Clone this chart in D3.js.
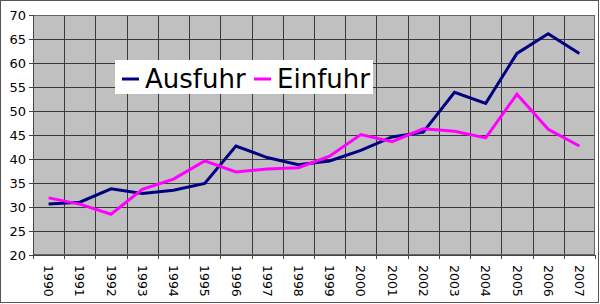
<!DOCTYPE html>
<html>
<head>
<meta charset="utf-8">
<script src="https://cdn.jsdelivr.net/npm/d3@7"></script>
<style>
  body { margin: 0; background: #fff; }
  svg text { font-family: "DejaVu Sans", Verdana, sans-serif; fill: #000; }
</style>
</head>
<body>
<svg id="chart" width="600" height="304"></svg>
<script>
const years = ['1990', '1991', '1992', '1993', '1994', '1995', '1996', '1997', '1998',
  '1999', '2000', '2001', '2002', '2003', '2004', '2005', '2006', '2007'];
const ausfuhr = [30.6, 31.0, 33.8, 32.8, 33.5, 34.9, 42.7, 40.3, 38.8, 39.6, 41.8, 44.6,
  45.6, 53.9, 51.6, 62.0, 66.1, 62.0];
const einfuhr = [31.9, 30.6, 28.5, 33.7, 35.8, 39.6, 37.3, 37.9, 38.2, 40.6, 45.1, 43.6,
  46.3, 45.8, 44.4, 53.5, 46.2, 42.7];
const yTicks = [20, 25, 30, 35, 40, 45, 50, 55, 60, 65, 70];
const series = [
  {name: 'Ausfuhr', values: ausfuhr, color: '#000080'},
  {name: 'Einfuhr', values: einfuhr, color: '#ff00ff'},
];

const svg = d3.select('#chart');
const margin = {top: 15, right: 5, bottom: 49, left: 33};
const width = 600 - margin.left - margin.right;
const height = 304 - margin.top - margin.bottom;

// outer frame
svg.append('rect')
  .attr('x', 0.5).attr('y', 0.5)
  .attr('width', 598).attr('height', 302)
  .attr('fill', 'none')
  .attr('stroke', '#555');

const g = svg.append('g')
  .attr('transform', `translate(${margin.left},${margin.top})`);

const x = d3.scaleBand().domain(years).range([0, width]);
const y = d3.scaleLinear().domain([20, 70]).range([height, 0]);

g.append('rect')
  .attr('width', width).attr('height', height)
  .attr('fill', '#c0c0c0');

// horizontal grid
g.append('g')
  .selectAll('line')
  .data(yTicks)
  .join('line')
    .attr('x1', 0).attr('x2', width)
    .attr('y1', d => Math.round(y(d)) + 0.5)
    .attr('y2', d => Math.round(y(d)) + 0.5)
    .attr('stroke', '#3a3a3a');

// vertical grid on category boundaries
g.append('g')
  .selectAll('line')
  .data(years.slice(1))
  .join('line')
    .attr('x1', d => Math.round(x(d)) + 0.5)
    .attr('x2', d => Math.round(x(d)) + 0.5)
    .attr('y1', 0).attr('y2', height)
    .attr('stroke', '#3a3a3a');

g.append('rect')
  .attr('x', 0.5).attr('y', 0.5)
  .attr('width', width - 1).attr('height', height - 1)
  .attr('fill', 'none')
  .attr('stroke', '#666');

// y axis
const yAxis = g.append('g')
  .call(d3.axisLeft(y).tickValues(yTicks).tickSize(4).tickPadding(3));
yAxis.select('.domain').attr('stroke', '#444');
yAxis.selectAll('.tick line').attr('stroke', '#444');
yAxis.selectAll('text')
  .attr('font-size', 13)
  .attr('font-family', '"DejaVu Sans", Verdana, sans-serif');

// x axis: ticks at boundaries, rotated labels at centres
const xAxisG = g.append('g').attr('transform', `translate(0,${height})`);
xAxisG.append('line')
  .attr('x1', 0).attr('x2', width)
  .attr('y1', 0.5).attr('y2', 0.5)
  .attr('stroke', '#444');
xAxisG.selectAll('line.tick')
  .data(years.concat(['end']))
  .join('line')
    .attr('class', 'tick')
    .attr('x1', (d, i) => Math.round(i * x.step()) + 0.5)
    .attr('x2', (d, i) => Math.round(i * x.step()) + 0.5)
    .attr('y1', 0).attr('y2', 4)
    .attr('stroke', '#444');
xAxisG.selectAll('text')
  .data(years)
  .join('text')
    .attr('transform', d => `translate(${x(d) + x.bandwidth() / 2},10) rotate(90)`)
    .attr('dy', '0.35em')
    .attr('font-size', 12.5)
    .text(d => d);

// lines
const line = d3.line()
  .x((d, i) => x(years[i]) + x.bandwidth() / 2)
  .y(d => y(d));

g.selectAll('path.series')
  .data(series)
  .join('path')
    .attr('class', 'series')
    .attr('d', d => line(d.values))
    .attr('fill', 'none')
    .attr('stroke', d => d.color)
    .attr('stroke-width', 3)
    .attr('stroke-linejoin', 'miter');

// legend
const legend = svg.append('g').attr('transform', 'translate(115,60)');
legend.append('rect')
  .attr('width', 258).attr('height', 34)
  .attr('fill', '#fff');
const legendX = [7, 139];
series.forEach((s, i) => {
  legend.append('line')
    .attr('x1', legendX[i]).attr('x2', legendX[i] + 17)
    .attr('y1', 19).attr('y2', 19)
    .attr('stroke', s.color)
    .attr('stroke-width', 3);
  legend.append('text')
    .attr('x', legendX[i] + 23)
    .attr('y', 28)
    .attr('font-size', 26)
    .text(s.name);
});
</script>
</body>
</html>
